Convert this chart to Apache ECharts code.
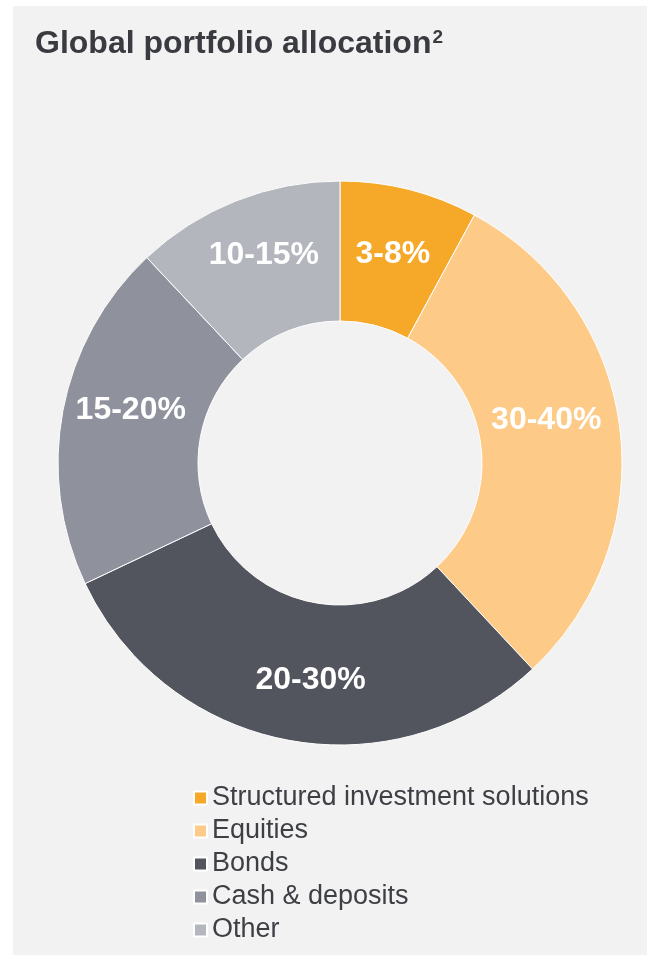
<!DOCTYPE html>
<html>
<head>
<meta charset="utf-8">
<script src="https://cdn.jsdelivr.net/npm/echarts@6/dist/echarts.min.js"></script>
<style>
  html, body { margin: 0; padding: 0; background: #ffffff; }
  #chart { position: absolute; left: 13px; top: 6px; width: 634px; height: 949px; }
</style>
</head>
<body>
<div id="chart"></div>
<script>
// categories, shares and their printed ranges
var categories = ['Structured investment solutions', 'Equities', 'Bonds', 'Cash & deposits', 'Other'];
var shares = [7.9, 30.1, 29.9, 20.0, 12.0];
var rangeLabels = ['3-8%', '30-40%', '20-30%', '15-20%', '10-15%'];
var colors = ['#F6A829', '#FDCB87', '#52555E', '#8F929C', '#B4B6BE'];
// small nudges so the range labels sit where the original placed them
var labelNudge = [[0, 0], [-7, -16], [11, 6], [2, -13], [3, -8]];

var chart = echarts.init(document.getElementById('chart'));

var pieData = categories.map(function (name, i) {
  return {
    name: name,
    value: shares[i],
    itemStyle: { color: colors[i] },
    label: { offset: labelNudge[i] }
  };
});

chart.setOption({
  backgroundColor: '#F2F2F2',
  animation: false,
  title: {
    text: 'Global portfolio allocation{sup|2}',
    left: 17,
    top: 17,
    textStyle: {
      fontFamily: 'Liberation Sans',
      fontSize: 32,
      fontWeight: 'bold',
      color: '#3A3B40',
      rich: {
        sup: {
          fontFamily: 'Liberation Sans',
          fontSize: 19,
          fontWeight: 'bold',
          color: '#3A3B40',
          verticalAlign: 'top',
          padding: [0, 0, 12, 1]
        }
      }
    }
  },
  legend: {
    orient: 'vertical',
    left: 175,
    top: 773,
    itemWidth: 13,
    itemHeight: 13,
    itemGap: 5,
    icon: 'rect',
    data: categories,
    textStyle: {
      fontFamily: 'Liberation Sans',
      fontSize: 27,
      lineHeight: 28,
      color: '#3D3F45'
    }
  },
  series: [{
    type: 'pie',
    center: [327, 457],
    radius: [142, 282],
    startAngle: 90,
    clockwise: true,
    avoidLabelOverlap: false,
    itemStyle: { borderColor: '#ffffff', borderWidth: 1 },
    label: {
      show: true,
      position: 'inside',
      formatter: function (p) { return rangeLabels[p.dataIndex]; },
      fontFamily: 'Liberation Sans',
      fontSize: 32,
      fontWeight: 'bold',
      color: '#ffffff'
    },
    labelLine: { show: false },
    emphasis: { disabled: true },
    data: pieData
  }]
});
</script>
</body>
</html>
